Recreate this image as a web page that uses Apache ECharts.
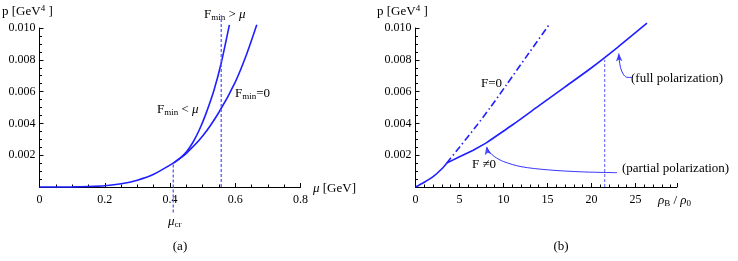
<!DOCTYPE html>
<html>
<head>
<meta charset="utf-8">
<script src="https://cdn.jsdelivr.net/npm/echarts@6/dist/echarts.min.js"></script>
<style>html,body{margin:0;padding:0;background:#fff;}#c{width:738px;height:261px;}</style>
</head>
<body>
<div id="c"></div>
<script>
// ---- panel (a): p vs mu ----
const muCommon = [0, 0.1, 0.15, 0.2, 0.25, 0.3, 0.35, 0.41];
const pCommon  = [0, 0.000005, 0.00003, 0.00008, 0.0002, 0.00043, 0.0008, 0.0015];
const muFmin0 = [0.41, 0.45, 0.5, 0.55, 0.6, 0.634, 0.666];
const pFmin0  = [0.0015, 0.00212, 0.0032, 0.0047, 0.0066, 0.0083, 0.0102];
const muFminLt = [0.41, 0.43, 0.45, 0.47, 0.49, 0.51, 0.535, 0.557, 0.582];
const pFminLt  = [0.0015, 0.0018, 0.0022, 0.0028, 0.0036, 0.0046, 0.0061, 0.0078, 0.0102];
const dashCrMu = [0.41, 0.41];
const dashCrP  = [-0.0016, 0.0015];
const dashHiMu = [0.557, 0.557];
const dashHiP  = [0, 0.0108];

// ---- panel (b): p vs rho_B/rho_0 ----
const rhoCommon = [0, 1, 2, 3, 3.54];
const pRhoCommon = [0, 0.0003, 0.00065, 0.00115, 0.0015];
const rhoPartial = [3.54, 5, 6.5, 8];
const pPartial   = [0.0015, 0.0019, 0.0023, 0.00276];
const rhoFull = [8, 11, 14, 17, 20, 23, 26.3];
const pFull   = [0.00276, 0.0039, 0.0051, 0.0063, 0.0075, 0.0088, 0.0103];
const rhoF0 = [3.54, 5, 7, 8.5, 10.3, 12.6, 15.3];
const pF0   = [0.0015, 0.0025, 0.0039, 0.0050, 0.0064, 0.0082, 0.0103];
const dashRho = [21.5, 21.5];
const dashRhoP = [0, 0.0080];
const arrFullRho = [24.6, 24.0, 23.6, 23.3, 23.15, 23.1];
const arrFullP   = [0.00689, 0.0069, 0.0071, 0.0075, 0.008, 0.0084];
const headFull = [23.1, 0.0084];
const arrPartRho = [22.9, 19, 15, 12, 10, 9, 8.4, 8.1];
const arrPartP   = [0.0009, 0.00095, 0.00108, 0.00128, 0.0016, 0.0019, 0.0022, 0.00252];
const headPart = [8.05, 0.00253];

const BLUE = '#1f1fff';
const DASH = '#5a5aff';
const FONT = 'Liberation Serif';
const zip = (a, b) => a.map((v, i) => [v, b[i]]);

const chart = echarts.init(document.getElementById('c'), null, {renderer: 'canvas'});

function axisCommon() {
  return {
    axisLine: {show: true, onZero: false, lineStyle: {color: '#000', width: 1}},
    axisTick: {show: true, inside: true, length: 4, lineStyle: {color: '#000', width: 1}},
    minorTick: {show: true, length: 2.5, lineStyle: {color: '#000', width: 1}},
    splitLine: {show: false},
    axisLabel: {color: '#000', fontFamily: FONT, fontSize: 12}
  };
}

const xA = Object.assign(axisCommon(), {type: 'value', gridIndex: 0, min: 0, max: 0.8, interval: 0.2});
xA.minorTick.splitNumber = 4;
xA.axisLabel.margin = 7;
xA.axisLabel.formatter = v => (v === 0 ? '0' : v.toFixed(1));
const yA = Object.assign(axisCommon(), {type: 'value', gridIndex: 0, min: 0, max: 0.010, interval: 0.002});
yA.minorTick.splitNumber = 4;
yA.axisLabel.margin = 4;
yA.axisLabel.showMinLabel = false;
yA.axisLabel.formatter = v => v.toFixed(3);

const xB = Object.assign(axisCommon(), {type: 'value', gridIndex: 1, min: 0, max: 29.7, interval: 5});
xB.minorTick.splitNumber = 5;
xB.axisLabel.margin = 7;
xB.axisLabel.showMaxLabel = false;
xB.axisLabel.formatter = v => (Math.abs(v - Math.round(v)) < 1e-6 ? String(Math.round(v)) : '');
const yB = Object.assign(axisCommon(), {type: 'value', gridIndex: 1, min: 0, max: 0.010, interval: 0.002});
yB.minorTick.splitNumber = 4;
yB.axisLabel.margin = 4;
yB.axisLabel.showMinLabel = false;
yB.axisLabel.formatter = v => v.toFixed(3);

function line(xi, xs, ys, style, extra) {
  return Object.assign({
    type: 'line', xAxisIndex: xi, yAxisIndex: xi, data: zip(xs, ys),
    symbol: 'none', smooth: 0.25, clip: false, silent: true,
    lineStyle: Object.assign({color: BLUE, width: 1.6}, style)
  }, extra || {});
}

const RICH = {
  f: {fontFamily: FONT, fontSize: 13, fill: '#000'},
  s: {fontFamily: FONT, fontSize: 9, fill: '#000', padding: [6, 0, 0, 0]},
  sup: {fontFamily: FONT, fontSize: 9, fill: '#000', padding: [0, 0, 7, 0]},
  m: {fontFamily: FONT, fontSize: 13, fill: '#000', fontStyle: 'italic'}
};
function T(x, y, text, align) {
  return {type: 'text', x: x, y: y, silent: true,
    style: {text: text, rich: RICH, fill: '#000', font: '13px "' + FONT + '"',
      align: align || 'left', verticalAlign: 'middle'}};
}

const option = {
  animation: false,
  backgroundColor: '#fff',
  grid: [
    {left: 39.5, top: 28, width: 261, height: 159},
    {left: 415.5, top: 28, width: 261.4, height: 159}
  ],
  xAxis: [xA, xB],
  yAxis: [yA, yB],
  series: [
    line(0, muCommon, pCommon, {}),
    line(0, muFmin0, pFmin0, {}),
    line(0, muFminLt, pFminLt, {}),
    line(0, dashCrMu, dashCrP, {color: DASH, width: 1.3, type: [3, 2]}, {smooth: false}),
    line(0, dashHiMu, dashHiP, {color: DASH, width: 1.3, type: [3, 2]}, {smooth: false}),
    line(1, rhoCommon, pRhoCommon, {}),
    line(1, rhoPartial, pPartial, {}, {smooth: false}),
    line(1, rhoFull, pFull, {}),
    line(1, rhoF0, pF0, {type: [7, 3, 1.5, 3]}),
    line(1, dashRho, dashRhoP, {color: DASH, width: 1, type: [3, 2]}, {smooth: false}),
    line(1, arrFullRho, arrFullP, {width: 0.9}, {smooth: 0.3}),
    line(1, arrPartRho, arrPartP, {width: 0.9}, {smooth: 0.3}),
    {type: 'scatter', xAxisIndex: 1, yAxisIndex: 1, silent: true, clip: false,
      data: [headFull], symbol: 'arrow', symbolSize: [5, 8], symbolRotate: 3,
      itemStyle: {color: BLUE}},
    {type: 'scatter', xAxisIndex: 1, yAxisIndex: 1, silent: true, clip: false,
      data: [headPart], symbol: 'arrow', symbolSize: [5, 8], symbolRotate: 12,
      itemStyle: {color: BLUE}}
  ],
  graphic: [
    T(2, 12, '{f|p [GeV}{sup|4}{f| ]}'),
    T(377, 12, '{f|p [GeV}{sup|4}{f| ]}'),
    T(313, 189, '{m|μ}{f| [GeV]}'),
    T(658, 201, '{m|ρ}{s|B}{f| / }{m|ρ}{s|0}'),
    T(168, 222, '{m|μ}{s|cr}'),
    T(180, 247, '{f|(a)}', 'center'),
    T(561, 247, '{f|(b)}', 'center'),
    T(204, 15, '{f|F}{s|min}{f| > }{m|μ}'),
    T(235, 94, '{f|F}{s|min}{f|=0}'),
    T(157, 110, '{f|F}{s|min}{f| < }{m|μ}'),
    T(481, 84, '{f|F=0}'),
    T(472, 165, '{f|F ≠0}'),
    T(631, 79, '{f|(full polarization)}'),
    T(622, 169, '{f|(partial polarization)}')
  ]
};
chart.setOption(option);
</script>
</body>
</html>
